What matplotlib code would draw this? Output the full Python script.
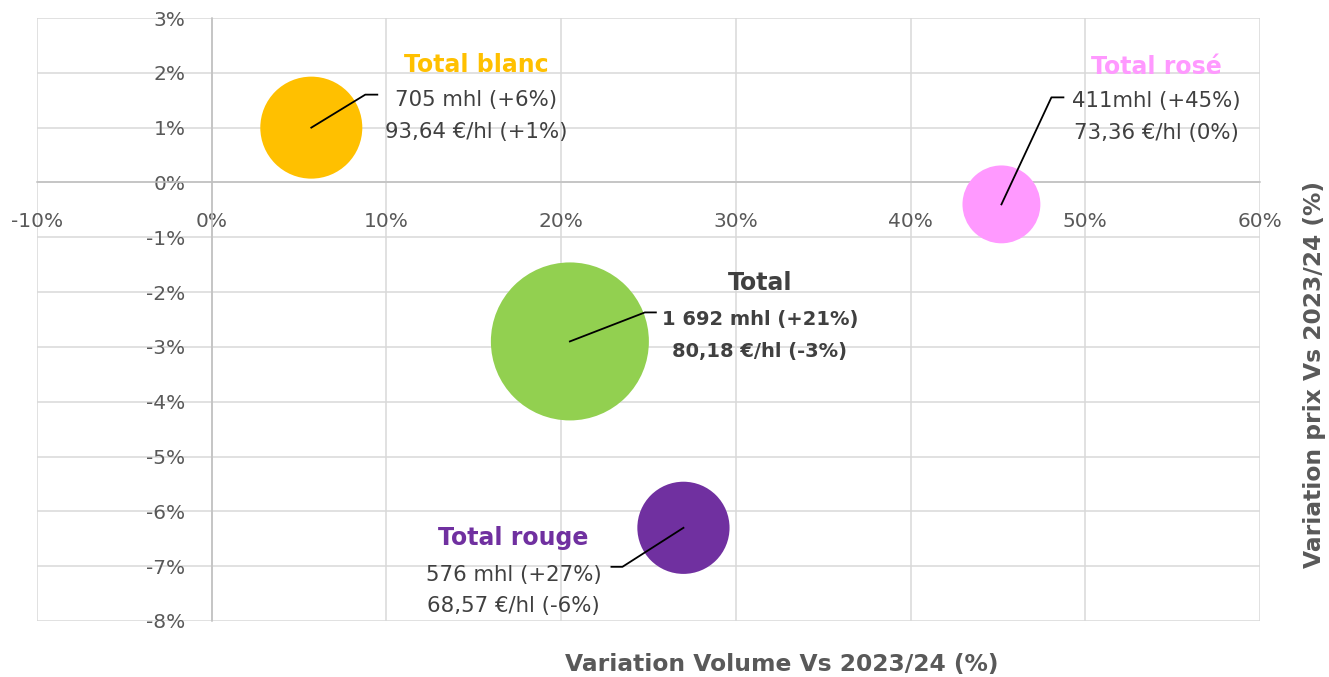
import numpy as np
import matplotlib as mpl
mpl.use('agg')
import matplotlib.pyplot as plt
from matplotlib.transforms import IdentityTransform
from matplotlib.lines import Line2D

plt.rcParams['font.family'] = ['DejaVu Sans']

# data
names = ['Total blanc', 'Total rosé', 'Total', 'Total rouge']
vol_var = [5.7, 45.2, 20.5, 27.0]       # variation volume vs 2023/24 (%)
price_var = [1.0, -0.4, -2.9, -6.3]     # variation prix vs 2023/24 (%)
volumes = [705, 411, 1692, 576]         # mhl
vol_labels = ['705 mhl (+6%)', '411mhl (+45%)', '1 692 mhl (+21%)', '576 mhl (+27%)']
price_labels = ['93,64 €/hl (+1%)', '73,36 €/hl (0%)', '80,18 €/hl (-3%)', '68,57 €/hl (-6%)']

x_ticks = np.arange(-10, 61, 10)
y_ticks = np.arange(-8, 4, 1)

# styles
colours = ['#FFC000', '#FF99FF', '#92D050', '#7030A0']
title_colours = ['#FFC000', '#FF99FF', '#404040', '#7030A0']
bold_body = [False, False, True, False]
body_size = [15.3, 15.3, 14.0, 15.3]
# leader line elbows and text block placement, in pixels relative to bubble centre (x right, y down)
elbows = [[(54, -33), (66, -33)], [(50, -107), (62, -107)],
          [(75, -29), (86, -29)], [(-61, 39), (-72, 39)]]
text_pos = [(165, -63, -28, 4), (155, -137, -103, -71),
            (190, -58, -22, 10), (-170, 10, 47, 78)]

W, H = 1329, 677
fig = plt.figure(figsize=(W / 100, H / 100), dpi=100)
ax = fig.add_axes([37 / W, 1 - 621 / H, (1260 - 37) / W, (621 - 18) / H])

ax.set_xlim(-10, 60)
ax.set_ylim(-8, 3)
ax.set_xticks(x_ticks)
ax.set_yticks(y_ticks)
ax.set_xticklabels(['%d%%' % t for t in x_ticks])
ax.set_yticklabels(['%d%%' % t for t in y_ticks])
ax.grid(True, color='#D9D9D9', linewidth=1.1, zorder=0)
ax.set_axisbelow(True)
for sp in ['top', 'right']:
    ax.spines[sp].set_visible(False)
ax.spines['left'].set_position(('data', 0))
ax.spines['bottom'].set_position(('data', 0))
for sp in ['left', 'bottom']:
    ax.spines[sp].set_color('#BFBFBF')
    ax.spines[sp].set_linewidth(1.1)
ax.tick_params(length=0, labelsize=14.5, labelcolor='#595959')
ax.tick_params(axis='y', pad=19)
ax.tick_params(axis='x', pad=21)

# bubbles, area proportional to volume
sizes = [v * 7.65 for v in volumes]
ax.scatter(vol_var, price_var, s=sizes, c=colours, edgecolors='none', zorder=3)

# labels with leader lines
for i in range(len(names)):
    cx, cy = ax.transData.transform((vol_var[i], price_var[i]))
    xs = [cx] + [cx + e[0] for e in elbows[i]]
    ys = [cy] + [cy - e[1] for e in elbows[i]]
    fig.add_artist(Line2D(xs, ys, color='black', linewidth=1.3,
                          transform=IdentityTransform(), zorder=5))
    dx, ty, l2, l3 = text_pos[i]
    w = 'bold' if bold_body[i] else 'normal'
    fig.text(cx + dx, cy - ty, names[i], transform=IdentityTransform(),
             ha='center', va='center', fontsize=17, fontweight='bold',
             color=title_colours[i])
    fig.text(cx + dx, cy - l2, vol_labels[i], transform=IdentityTransform(),
             ha='center', va='center', fontsize=body_size[i], fontweight=w, color='#404040')
    fig.text(cx + dx, cy - l3, price_labels[i], transform=IdentityTransform(),
             ha='center', va='center', fontsize=body_size[i], fontweight=w, color='#404040')

# axis titles
fig.text(782 / W, 1 - 664 / H, 'Variation Volume Vs 2023/24 (%)', ha='center', va='center',
         fontsize=16.8, fontweight='bold', color='#595959')
fig.text(1315 / W, 1 - 375 / H, 'Variation prix Vs 2023/24 (%)', ha='center', va='center',
         rotation=90, fontsize=16.8, fontweight='bold', color='#595959')

plt.savefig('out.png', dpi=100)
plt.close()
